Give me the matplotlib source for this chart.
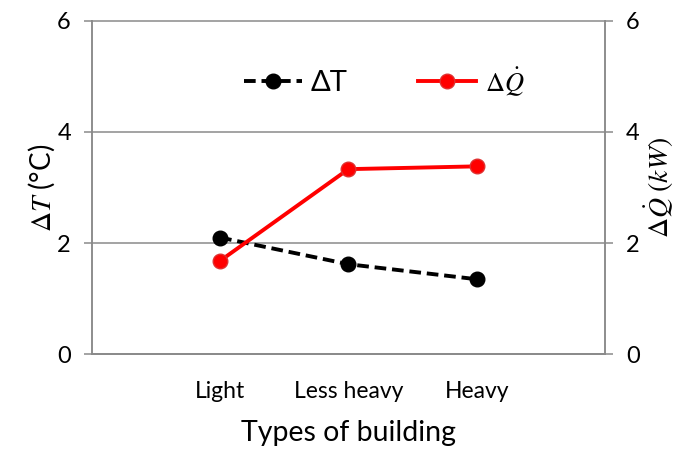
import matplotlib
matplotlib.use("Agg")
import matplotlib.pyplot as plt

categories = ["Light", "Less heavy", "Heavy"]
delta_t = [2.10, 1.62, 1.35]
delta_q = [1.68, 3.33, 3.38]
y_ticks = [0, 2, 4, 6]

plt.rcParams["font.family"] = ["Lato", "DejaVu Sans"]
plt.rcParams["mathtext.fontset"] = "stix"

grey = "#8a8a8a"

fig = plt.figure(figsize=(6.95, 4.5), dpi=100)
ax = fig.add_axes([0.132, 0.2127, 0.7385, 0.7413])
ax2 = ax.twinx()

xs = list(range(1, len(categories) + 1))

ax.set_xlim(0, len(categories) + 1)
ax.set_ylim(0, 6)
ax2.set_ylim(0, 6)
ax.set_yticks(y_ticks)
ax2.set_yticks(y_ticks)
ax.yaxis.grid(True, color=grey, linewidth=1.1, clip_on=False)
ax.set_axisbelow(True)

l1, = ax.plot(xs, delta_t, color="black", linestyle=(0, (3.0, 1.5)), linewidth=2.8,
              marker="o", markersize=10.5, label="ΔT")
l2, = ax.plot(xs, delta_q, color="#ff0000", linewidth=2.8,
              marker="o", markersize=10.5, markeredgecolor="#e03030",
              label=r"$\Delta\dot{Q}$")

for a in (ax, ax2):
    a.spines["top"].set_visible(False)
    for side in ("left", "right", "bottom"):
        a.spines[side].set_color(grey)
        a.spines[side].set_linewidth(1.1)
    a.tick_params(axis="y", colors=grey, labelcolor="black", length=6, width=1.1,
                  labelsize=17, pad=9)

ax.set_xticks(xs)
ax.set_xticklabels(categories)
ax.tick_params(axis="x", length=0, labelsize=16.5, pad=19)
ax.set_xlabel("Types of building", fontsize=20.5, labelpad=13)

ax.set_ylabel(r"$\Delta T$ (°C)", fontsize=20, labelpad=0)
ax2.set_ylabel(r"$\Delta\dot{Q}\ (kW)$", fontsize=20, labelpad=2)

leg = ax.legend(handles=[l1, l2], loc="upper center", bbox_to_anchor=(0.57, 0.945),
                ncol=2, frameon=False, fontsize=21, handlelength=2.0,
                columnspacing=2.4, handletextpad=0.3)
leg.get_texts()[1].set_fontsize(19)

fig.savefig("out.png", dpi=100)
